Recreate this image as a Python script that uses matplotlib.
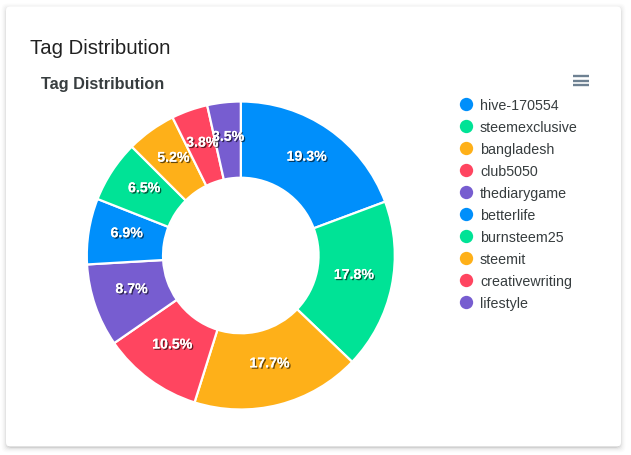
import matplotlib
matplotlib.use("Agg")
import matplotlib.pyplot as plt
import matplotlib.patheffects as pe
from matplotlib.patches import FancyBboxPatch

tags = ["hive-170554", "steemexclusive", "bangladesh", "club5050", "thediarygame",
        "betterlife", "burnsteem25", "steemit", "creativewriting", "lifestyle"]
shares = [19.3, 17.8, 17.7, 10.5, 8.7, 6.9, 6.5, 5.2, 3.8, 3.5]
colors = ["#008FFB", "#00E396", "#FEB019", "#FF4560", "#775DD0",
          "#008FFB", "#00E396", "#FEB019", "#FF4560", "#775DD0"]

W, H = 631, 456
plt.rcParams['font.family'] = ['Liberation Sans', 'DejaVu Sans']

fig = plt.figure(figsize=(W / 100, H / 100), dpi=100, facecolor="white")

# background layer in pixel coordinates
bg = fig.add_axes([0, 0, 1, 1])
bg.set_xlim(0, W)
bg.set_ylim(H, 0)
bg.axis("off")

# card shadow, then the card
for grow, alpha in [(5, 0.012), (4, 0.015), (3, 0.02), (2, 0.03), (1, 0.05), (0, 0.12)]:
    bg.add_patch(FancyBboxPatch((6.5 - grow, 8 - grow + 1.5), 614 + 2 * grow, 439 + 2 * grow,
                                boxstyle="round,pad=0,rounding_size=5",
                                fc="black", ec="none", alpha=alpha))
bg.add_patch(FancyBboxPatch((6, 7.5), 615, 440, boxstyle="round,pad=0,rounding_size=4",
                            fc="white", ec="none"))

bg.text(30, 48.5, "Tag Distribution", fontsize=14.7, color="#212121", va="center", ha="left")
bg.text(41, 84.5, "Tag Distribution", fontsize=11.7, fontweight="bold", color="#373d3f",
        va="center", ha="left")

# hamburger menu
for y in [77, 81.5, 86]:
    bg.plot([573, 589], [y, y], color="#6e8192", lw=1.7, solid_capstyle="butt")

# legend
legend_y = [104.5, 126.5, 148.5, 170.5, 193, 215, 237, 259, 281, 303]
for tag, color, y in zip(tags, colors, legend_y):
    bg.scatter([466], [y], s=92, color=color, linewidths=0)
    bg.text(480, y + 1.5, tag, fontsize=10.3, color="#373d3f", va="center", ha="left")

# donut
cx, cy, r = 240.8, 256.5, 154
ax = fig.add_axes([(cx - r) / W, 1 - (cy + r) / H, 2 * r / W, 2 * r / H])
wedges, _, pct_texts = ax.pie(shares, colors=colors, startangle=90, counterclock=False,
                              radius=1, autopct="%.1f%%", pctdistance=0.75,
                              wedgeprops={"width": 0.495, "edgecolor": "white", "linewidth": 1.6})
ax.set_xlim(-1, 1)
ax.set_ylim(-1, 1)
for t in pct_texts:
    x, y = t.get_position()
    t.set_position((x, y + 4 / r))
    t.set_color("white")
    t.set_fontsize(10.2)
    t.set_fontweight("bold")
    t.set_path_effects([pe.withSimplePatchShadow(offset=(1, -1), shadow_rgbFace="black", alpha=0.6),
                        pe.Normal()])

fig.savefig("out.png", dpi=100)
